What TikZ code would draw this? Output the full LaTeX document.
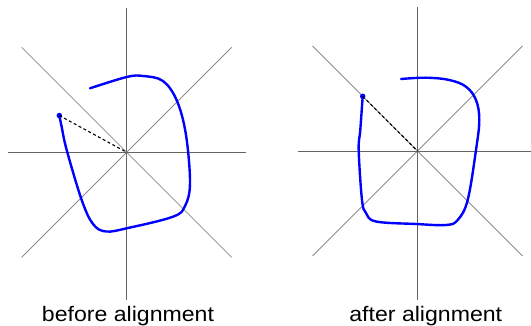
\documentclass[tikz,border=0pt]{standalone}
\usepackage{fontspec}
\setmainfont{Liberation Sans}
\usetikzlibrary{positioning}

\begin{document}
\begin{tikzpicture}[
    x=1pt, y=-1pt,
    axis/.style={draw=black!60, line width=0.9pt},
    diag/.style={draw=black!45, line width=0.8pt},
    stroke/.style={draw=blue, line width=2.4pt, line cap=round, line join=round},
    startdot/.style={circle, fill=blue, inner sep=0pt, minimum size=5.5pt},
    link/.style={dashed, dash pattern=on 3pt off 2.5pt, line width=1.1pt, black},
    caption/.style={font=\fontsize{21}{24}\selectfont, anchor=base, xscale=1.1, transform shape}
]
\useasboundingbox (0,0) rectangle (531,326);

% Left panel: before alignment
\coordinate (cL) at (126.7,152.3);
\draw[diag] ([shift={(-105,-105)}]cL) -- ([shift={(105,105)}]cL);
\draw[diag] ([shift={(-105,105)}]cL) -- ([shift={(105,-105)}]cL);
\draw[axis] (8,152.3) -- (246,152.3);
\draw[axis] (126.7,8) -- (126.7,300);
\draw[stroke] plot[smooth, tension=0.6] coordinates {
    (59.3,115.5) (61.7,127) (66.7,150) (81.7,200) (93,224) (106,231.5)
    (128,228) (173,216.7) (185,206) (190,183) (186,135) (177,101)
    (163,81) (143,76) (126.7,77) (90,88.3)};
\node[startdot] (pL) at (59.3,115.5) {};
\draw[link] (pL.center) -- (cL);
\node[caption] (tL) at (128,321.5) {before alignment};

% Right panel: after alignment
\coordinate (cR) at (417.5,151);
\draw[diag] ([shift={(-105,-105)}]cR) -- ([shift={(105,105)}]cR);
\draw[diag] ([shift={(-105,105)}]cR) -- ([shift={(105,-105)}]cR);
\draw[axis] (298,151) -- (531,151);
\draw[axis] (417.5,7) -- (417.5,300);
\draw[stroke] plot[smooth, tension=0.6] coordinates {
    (362.7,96.3) (360.3,130) (358.7,150) (362,200) (366,213) (376,221.5)
    (416,224) (446,225) (457.7,220) (467.7,200) (476,150) (479.3,120)
    (476,100) (466,86.7) (449.3,80) (426,77.7) (401,79)};
\node[startdot] (pR) at (362.7,96.3) {};
\draw[link] (pR.center) -- (cR);
\node[caption] (tR) at (425.8,321.5) {after alignment};

\end{tikzpicture}
\end{document}
